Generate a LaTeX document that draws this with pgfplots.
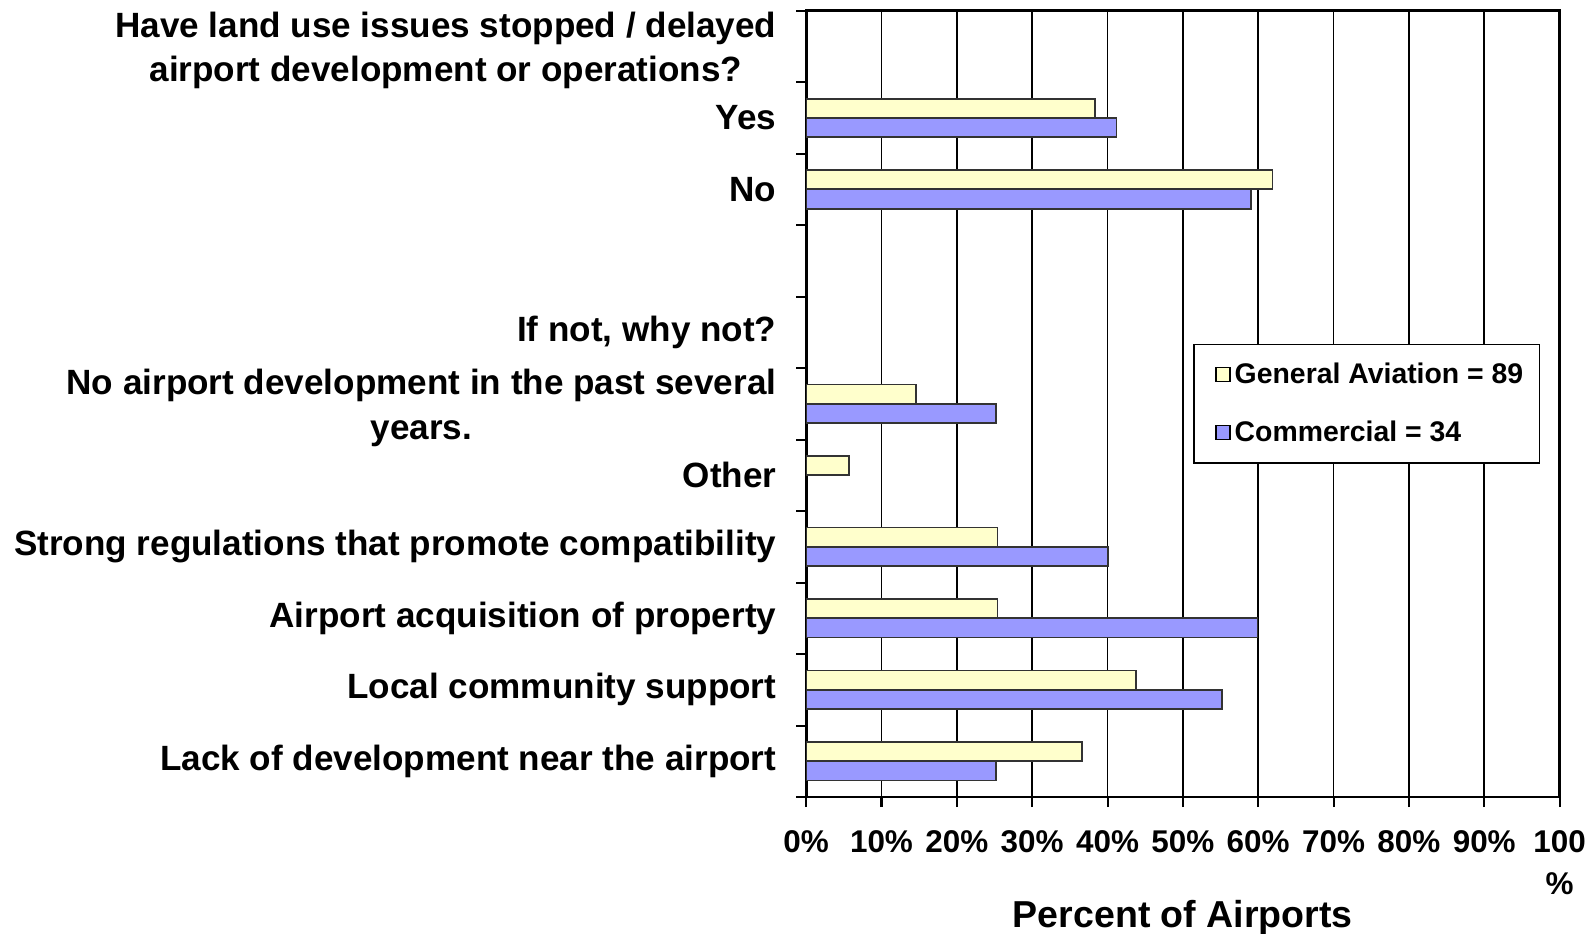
\documentclass[border=0pt]{standalone}
\usepackage{pgfplots}
\pgfplotsset{compat=1.18}
\usepackage{fontspec}
\setmainfont{Liberation Sans}
\definecolor{gaYellow}{HTML}{FFFFCC}
\definecolor{comBlue}{HTML}{9999FF}

\begin{document}
\begin{tikzpicture}
% page frame, same proportions as the reference
\path[use as bounding box] (-397.5bp,-67.5bp) rectangle (386.5bp,393bp);
\begin{axis}[
  at={(0,0)}, anchor=south west,
  scale only axis,
  width=371.5bp, height=387.75bp,
  xbar, bar width=9.5bp,
  xmin=0, xmax=100,
  ymin=-0.5, ymax=10.5,
  y dir=reverse,
  axis line style={black, line width=1.4bp},
  xmajorgrids,
  major x grid style={black, line width=0.75bp},
  tick align=outside,
  xtick pos=bottom, ytick pos=left,
  major tick length=5bp, minor tick length=5bp,
  major x tick style={black, line width=1bp},
  major y tick style={draw=none},
  minor y tick style={black, line width=1bp},
  xtick={0,10,...,100},
  xticklabels={0\%,10\%,20\%,30\%,40\%,50\%,60\%,70\%,80\%,90\%,{100\\\%}},
  xticklabel style={font=\fontsize{15.5bp}{20.5bp}\selectfont\bfseries, align=center, yshift=-8bp},
  ytick={0,...,10},
  minor ytick={-0.5,0.5,...,10.5},
  yticklabels={
    {\rule{0pt}{16.5bp}Have land use issues stopped / delayed\\airport development or operations?},
    Yes, No, {}, {If not, why not?},
    {\rule{0pt}{16.5bp}No airport development in the past several\\years.},
    Other,
    Strong regulations that promote compatibility,
    Airport acquisition of property,
    Local community support,
    Lack of development near the airport},
  yticklabel style={font=\fontsize{17.3bp}{22bp}\selectfont\bfseries, align=center, inner sep=0pt, xshift=-9.5bp},
  legend style={at={(0.9744,0.5764)}, anchor=north east,
    draw=black, line width=0.8bp,
    font=\fontsize{14bp}{17bp}\selectfont\bfseries,
    inner xsep=6bp, inner ysep=7bp, row sep=13bp,
    nodes={inner ysep=2bp}},
  legend cell align=left,
  legend image code/.code={\path (0bp,0bp); \draw[#1, draw=black, line width=0.6bp] (4.5bp,-3.5bp) rectangle (11.5bp,3.5bp);},
]
\addplot[fill=gaYellow, draw=black!80, line width=0.9bp, bar shift=4.75bp] coordinates {
  (38.3,1) (61.9,2) (14.6,5) (5.7,6) (25.4,7) (25.4,8) (43.8,9) (36.6,10)};
\addplot[fill=comBlue, draw=black!80, line width=0.9bp, bar shift=-4.75bp] coordinates {
  (41.2,1) (59.0,2) (25.2,5) (40.1,7) (59.9,8) (55.2,9) (25.2,10)};
\legend{General Aviation = 89, Commercial = 34}
\end{axis}
\node[font=\fontsize{18.5bp}{22bp}\selectfont\bfseries] at (185.75bp,-59.5bp) {Percent of Airports};
\end{tikzpicture}
\end{document}
